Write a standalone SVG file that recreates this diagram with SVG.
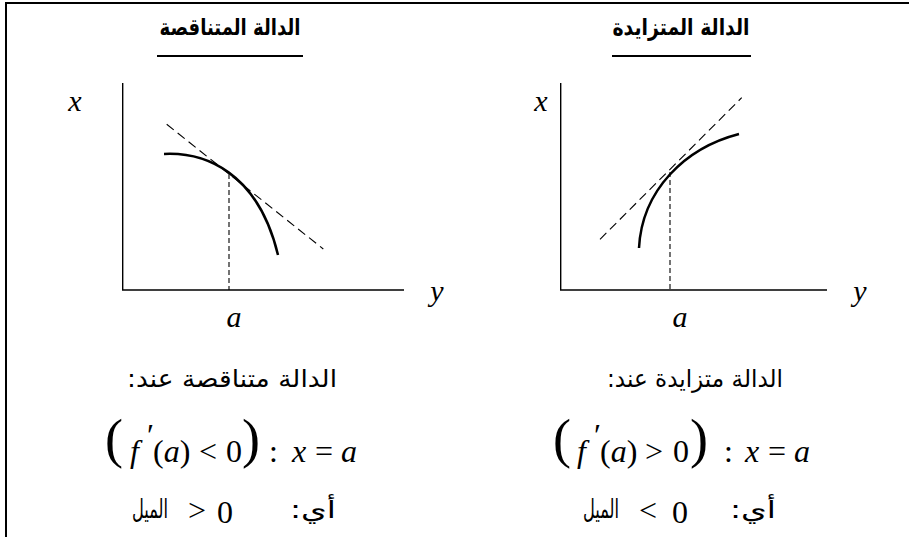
<svg xmlns="http://www.w3.org/2000/svg" width="909" height="537" viewBox="0 0 909 537">
<style>
.ar{font-family:"DejaVu Sans",sans-serif;fill:#000;direction:rtl;unicode-bidi:embed}
.tt{font-family:"DejaVu Sans",sans-serif;font-weight:bold;fill:#000;direction:rtl;unicode-bidi:embed}
.m{font-family:"Liberation Serif","DejaVu Serif",serif;fill:#000;font-size:32px}
.lb{font-family:"Liberation Serif","DejaVu Serif",serif;fill:#000;font-size:30px;font-style:italic}
.mi{font-style:italic}
.big{font-size:54px}
.ax{stroke:#000;stroke-width:1.4;fill:none}
.cv{stroke:#000;stroke-width:2.5;fill:none}
.tg{stroke:#000;stroke-width:1.1;fill:none;stroke-dasharray:9 5}
.vd{stroke:#000;stroke-width:1.1;fill:none;stroke-dasharray:5 3}
</style>
<g id="frame">
<line x1="5" y1="3" x2="909" y2="3" stroke="#000" stroke-width="1.8"/>
<line x1="6" y1="2" x2="6" y2="537" stroke="#000" stroke-width="2"/>
</g>
<g id="title-left">
<text class="tt" x="230" y="35" font-size="23" text-anchor="middle" textLength="141" lengthAdjust="spacingAndGlyphs">الدالة المتناقصة</text>
<line x1="157" y1="56" x2="303" y2="56" stroke="#000" stroke-width="1.8"/>
</g>
<g id="title-right">
<text class="tt" x="681" y="35" font-size="23" text-anchor="middle" textLength="137" lengthAdjust="spacingAndGlyphs">الدالة المتزايدة</text>
<line x1="612" y1="56" x2="751" y2="56" stroke="#000" stroke-width="1.8"/>
</g>
<g id="graph-left">
<polyline class="ax" points="122.7,83 122.7,290 404,290"/>
<line class="tg" x1="166.7" y1="124.3" x2="323.3" y2="249"/>
<line class="vd" x1="229" y1="174" x2="229" y2="290"/>
<path class="cv" d="M164,154 C205,152 258,172 278,255"/>
<text class="lb" x="75" y="111" text-anchor="middle">x</text>
<text class="lb" x="437" y="301" text-anchor="middle">y</text>
<text class="lb" x="234" y="327" text-anchor="middle">a</text>
</g>
<g id="graph-right">
<polyline class="ax" points="560.7,83 560.7,290 827,290"/>
<line class="tg" x1="600" y1="239.3" x2="741.7" y2="97.7"/>
<line class="vd" x1="670" y1="172" x2="670" y2="290"/>
<path class="cv" d="M639,248 C642,190 685,148 739,134"/>
<text class="lb" x="541" y="111" text-anchor="middle">x</text>
<text class="lb" x="860" y="301" text-anchor="middle">y</text>
<text class="lb" x="680" y="327" text-anchor="middle">a</text>
</g>
<g id="caption-left">
<text class="ar" x="232" y="387" font-size="24" text-anchor="middle" textLength="210" lengthAdjust="spacingAndGlyphs">الدالة متناقصة عند:</text>
<text class="m big" x="105" y="457">(</text>
<text class="m mi" x="130" y="462">f</text>
<text class="m" x="147" y="446" font-size="22">′</text>
<text class="m" x="153" y="462">(<tspan class="mi">a</tspan>)</text>
<text class="m" x="199" y="462">&lt;</text>
<text class="m" x="226" y="462">0</text>
<text class="m big" x="242" y="457">)</text>
<text class="m" x="269" y="462">:</text>
<text class="m mi" x="292" y="462">x</text>
<text class="m" x="315" y="462">=</text>
<text class="m mi" x="341" y="462">a</text>
<text class="ar" x="150" y="518" font-size="26" text-anchor="middle" textLength="36" lengthAdjust="spacingAndGlyphs">الميل</text>
<text class="m" x="197" y="521" font-size="36" text-anchor="middle">&gt;</text>
<text class="m" x="225" y="523" font-size="32" text-anchor="middle">0</text>
<text class="ar" x="313" y="518" font-size="24" text-anchor="middle" textLength="46" lengthAdjust="spacingAndGlyphs">أي:</text>
</g>
<g id="caption-right">
<text class="ar" x="695" y="387" font-size="24" text-anchor="middle" textLength="176" lengthAdjust="spacingAndGlyphs">الدالة متزايدة عند:</text>
<text class="m big" x="553" y="457">(</text>
<text class="m mi" x="577" y="462">f</text>
<text class="m" x="594" y="446" font-size="22">′</text>
<text class="m" x="600" y="462">(<tspan class="mi">a</tspan>)</text>
<text class="m" x="645" y="462">&gt;</text>
<text class="m" x="673" y="462">0</text>
<text class="m big" x="690" y="457">)</text>
<text class="m" x="724" y="462">:</text>
<text class="m mi" x="745" y="462">x</text>
<text class="m" x="768" y="462">=</text>
<text class="m mi" x="794" y="462">a</text>
<text class="ar" x="601" y="518" font-size="26" text-anchor="middle" textLength="36" lengthAdjust="spacingAndGlyphs">الميل</text>
<text class="m" x="648" y="521" font-size="36" text-anchor="middle">&lt;</text>
<text class="m" x="680" y="523" font-size="32" text-anchor="middle">0</text>
<text class="ar" x="753" y="518" font-size="24" text-anchor="middle" textLength="46" lengthAdjust="spacingAndGlyphs">أي:</text>
</g>
</svg>
